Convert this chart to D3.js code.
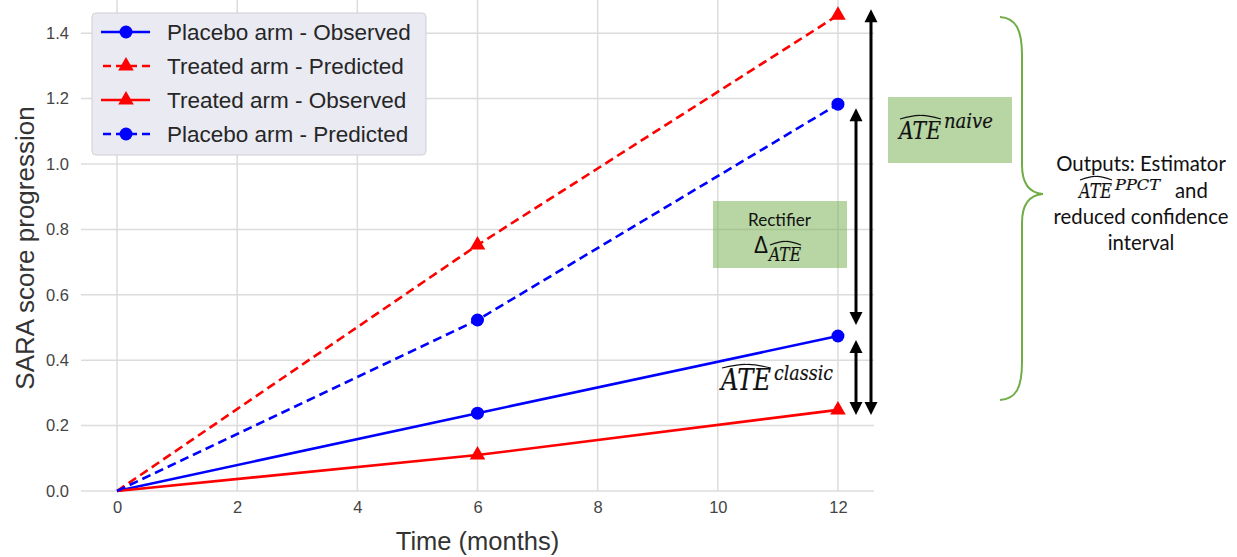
<!DOCTYPE html>
<html><head><meta charset="utf-8">
<script src="https://cdn.jsdelivr.net/npm/d3@7/dist/d3.min.js"></script>
<style>
html,body{margin:0;padding:0;background:#fff;}
svg{display:block;}
</style></head>
<body>
<svg id="chart" width="1237" height="557"></svg>
<script>
// ---- data ----
const months = [0, 6, 12];
const placeboObserved = [0, 0.238, 0.474];
const treatedPredicted = [0, 0.752, 1.455];
const treatedObserved = [0, 0.110, 0.248];
const placeboPredicted = [0, 0.523, 1.183];
const seriesNames = ["Placebo arm - Observed", "Treated arm - Predicted", "Treated arm - Observed", "Placebo arm - Predicted"];
const xTicks = [0, 2, 4, 6, 8, 10, 12];
const yTicks = [0, 0.2, 0.4, 0.6, 0.8, 1.0, 1.2, 1.4];
const xLabel = "Time (months)";
const yLabel = "SARA score progression";
const outputLines = ["Outputs: Estimator", "and", "reduced confidence", "interval"];

// ---- styles ----
const seriesValues = [placeboObserved, treatedPredicted, treatedObserved, placeboPredicted];
const seriesStyle = [
  {color: "#0000ff", dash: null, marker: "circle"},
  {color: "#ff0000", dash: "9,5", marker: "triangle"},
  {color: "#ff0000", dash: null, marker: "triangle"},
  {color: "#0000ff", dash: "9,5", marker: "circle"}
];
const green = "#70ad47";
const sansFont = "'Liberation Sans', Arial, sans-serif";
const calFont = "Lato, 'Open Sans', sans-serif";
const mathFont = "'DejaVu Serif', 'Liberation Serif', serif";

const svg = d3.select("#chart");
const x = d3.scaleLinear().domain([-0.6, 12.6]).range([81, 874]);
const y = d3.scaleLinear().domain([0, 1.5]).range([491, 0.5]);

// grid
const grid = svg.append("g");
grid.selectAll("line.h").data(yTicks).join("line")
  .attr("x1", x.range()[0]).attr("x2", x.range()[1])
  .attr("y1", d => y(d)).attr("y2", d => y(d))
  .attr("stroke", "#dcdcdc").attr("stroke-width", 1.5);
grid.selectAll("line.v").data(xTicks).join("line")
  .attr("x1", d => x(d)).attr("x2", d => x(d))
  .attr("y1", 0).attr("y2", y(0))
  .attr("stroke", "#dcdcdc").attr("stroke-width", 1.5);

// axes (labels only)
const ax = svg.append("g").attr("transform", `translate(0,${y(0)})`)
  .call(d3.axisBottom(x).tickValues(xTicks).tickSize(0).tickPadding(10).tickFormat(d3.format("d")));
const ay = svg.append("g").attr("transform", `translate(${x.range()[0]},0)`)
  .call(d3.axisLeft(y).tickValues(yTicks).tickSize(0).tickPadding(12).tickFormat(d3.format(".1f")));
[ax, ay].forEach(a => {
  a.select(".domain").remove();
  a.selectAll("text").attr("font-family", sansFont).attr("font-size", 16.5).attr("fill", "#444");
});

svg.append("text").attr("x", (x.range()[0] + x.range()[1]) / 2).attr("y", 550)
  .attr("text-anchor", "middle").attr("font-family", sansFont).attr("font-size", 25.5).attr("fill", "#333")
  .text(xLabel);
svg.append("text").attr("transform", `translate(34,248) rotate(-90)`)
  .attr("text-anchor", "middle").attr("font-family", sansFont).attr("font-size", 26).attr("fill", "#333")
  .text(yLabel);

// lines
const line = d3.line().x((d, i) => x(months[i])).y(d => y(d));
const tri = d3.symbol().type(d3.symbolTriangle).size(105);
function drawMarker(g, type, cx, cy, color) {
  if (type === "circle") g.append("circle").attr("cx", cx).attr("cy", cy).attr("r", 6.5).attr("fill", color);
  else g.append("path").attr("d", tri).attr("transform", `translate(${cx},${cy})`).attr("fill", color);
}
const linesG = svg.append("g");
seriesValues.forEach((vals, si) => {
  const st = seriesStyle[si];
  linesG.append("path").datum(vals).attr("d", line).attr("fill", "none")
    .attr("stroke", st.color).attr("stroke-width", 2.6).attr("stroke-dasharray", st.dash);
  vals.forEach((v, i) => { if (months[i] !== 0) drawMarker(linesG, st.marker, x(months[i]), y(v), st.color); });
});

// legend
const lg = svg.append("g");
lg.append("rect").attr("x", 92).attr("y", 13).attr("width", 334).attr("height", 142).attr("rx", 4)
  .attr("fill", "#eaeaf2").attr("stroke", "#cfcfd6").attr("stroke-width", 1);
seriesNames.forEach((name, i) => {
  const cy = 32 + i * 34;
  const st = seriesStyle[i];
  lg.append("line").attr("x1", 101).attr("x2", 150).attr("y1", cy).attr("y2", cy)
    .attr("stroke", st.color).attr("stroke-width", 2.6).attr("stroke-dasharray", st.dash ? "8,5" : null)
    .attr("stroke-dashoffset", st.dash ? -2 : null);
  drawMarker(lg, st.marker, 126, cy, st.color);
  lg.append("text").attr("x", 167).attr("y", cy + 8).attr("font-family", sansFont).attr("font-size", 22.5)
    .attr("fill", "#262626").text(name);
});

// helpers
function fitText(sel, width) {
  const fs = +sel.attr("font-size");
  const w = sel.node().getComputedTextLength();
  sel.attr("font-size", fs * width / w);
  return sel;
}
function hat(g, x0, x1, yEnd) {
  const m = (x0 + x1) / 2;
  g.append("path").attr("d", `M${x0},${yEnd} Q${m - (x1-x0)*0.15},${yEnd - 4} ${m},${yEnd - 3.5} Q${m + (x1-x0)*0.15},${yEnd - 4} ${x1},${yEnd}`)
    .attr("fill", "none").attr("stroke", "#111").attr("stroke-width", 1.2);
}
// italic math text with a given glyph size, squeezed horizontally to a width
function mathText(g, x0, base, fs, width, str) {
  const t = g.append("text").attr("x", 0).attr("y", 0).attr("font-family", mathFont).attr("font-style", "italic")
    .attr("font-size", fs).attr("fill", "#111").attr("stroke", "#111").attr("stroke-width", 0.2).text(str);
  const sx = width / t.node().getComputedTextLength();
  t.attr("transform", `translate(${x0},${base}) scale(${sx},1)`);
  return t;
}
function ateMath(g, x0, x1, base, fs, hatY, sup, sx1, supBase, supFs) {
  mathText(g, x0, base, fs, x1 - x0 - 1, "ATE");
  if (sup) mathText(g, x1 + 2, supBase, supFs, sx1 - x1 - 2, sup);
  hat(g, x0 + 1, x1 - 1, hatY);
}

// green boxes
const ann = svg.append("g");
ann.append("rect").attr("x", 713).attr("y", 201).attr("width", 134).attr("height", 67)
  .attr("fill", green).attr("fill-opacity", 0.5);
ann.append("rect").attr("x", 888).attr("y", 97).attr("width", 124).attr("height", 66)
  .attr("fill", green).attr("fill-opacity", 0.5);

fitText(ann.append("text").attr("x", 748).attr("y", 226).attr("font-family", calFont).attr("font-size", 18)
  .attr("fill", "#111").text("Rectifier"), 63);
ann.append("text").attr("x", 754).attr("y", 253).attr("font-family", sansFont).attr("font-size", 23)
  .attr("textLength", 14).attr("lengthAdjust", "spacingAndGlyphs").attr("fill", "#111").text("Δ");
ateMath(ann, 769, 802, 261, 19, 245, null);
ateMath(ann, 899, 942, 139, 24, 119, "naive", 993, 128, 20);
ateMath(ann, 721, 772, 390, 30, 368, "classic", 833, 380, 21);

// arrows
function doubleArrow(ax0, yTop, yBot) {
  const hw = 6.5, hl = 13;
  ann.append("line").attr("x1", ax0).attr("x2", ax0).attr("y1", yTop + hl - 1).attr("y2", yBot - hl + 1)
    .attr("stroke", "#000").attr("stroke-width", 3);
  ann.append("path").attr("d", `M${ax0},${yTop} L${ax0 - hw},${yTop + hl} L${ax0 + hw},${yTop + hl} Z`).attr("fill", "#000");
  ann.append("path").attr("d", `M${ax0},${yBot} L${ax0 - hw},${yBot - hl} L${ax0 + hw},${yBot - hl} Z`).attr("fill", "#000");
}
doubleArrow(871, y(treatedPredicted[2]) - 6, y(treatedObserved[2]) + 5);
doubleArrow(856, y(placeboPredicted[2]) + 4, y(placeboObserved[2]) - 11);
doubleArrow(856, y(placeboObserved[2]) + 4, y(treatedObserved[2]) + 5);

// brace
ann.append("path")
  .attr("d", "M1000,17 C1016,18 1022,30 1022,55 L1022,165 C1022,185 1030,193 1043,194 C1030,195 1022,203 1022,223 L1022,362 C1022,388 1016,399 1000,400")
  .attr("fill", "none").attr("stroke", green).attr("stroke-width", 2);

// right text block
const rt = svg.append("g");
const lineBases = [171, 198, 224, 250];
const measure = rt.append("text").attr("font-family", calFont).attr("font-size", 20).text(outputLines[2]);
const fsRight = 20 * 175 / measure.node().getComputedTextLength();
measure.remove();
[0, 2, 3].forEach(i => {
  rt.append("text").attr("x", 1141).attr("y", lineBases[i]).attr("text-anchor", "middle")
    .attr("font-family", calFont).attr("font-size", fsRight).attr("fill", "#111").text(outputLines[i]);
});
rt.append("text").attr("x", 1175).attr("y", lineBases[1]).attr("font-family", calFont).attr("font-size", fsRight)
  .attr("fill", "#111").text(outputLines[1]);
ateMath(rt, 1079, 1113, 198, 21, 180, "PPCT", 1160, 190, 15);
</script>
</body></html>
